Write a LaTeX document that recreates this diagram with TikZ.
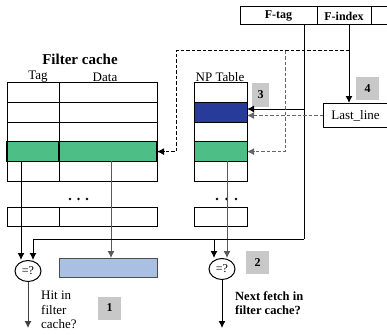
\documentclass[tikz,border=0pt]{standalone}
\usepackage{fontspec}
\setmainfont{Liberation Serif}
\usetikzlibrary{arrows.meta,shapes.geometric}
\definecolor{rowgreen}{RGB}{78,190,135}
\definecolor{rowblue}{RGB}{40,58,154}
\definecolor{barblue}{RGB}{170,192,226}
\definecolor{numgray}{RGB}{200,200,200}
\begin{document}
\begin{tikzpicture}[x=1pt,y=-1pt,
  line/.style={line width=1pt},
  arr/.style={line width=1pt,-{Latex[length=7pt,width=7pt]}},
  darr/.style={line width=1pt,dashed,dash pattern=on 3.5pt off 2pt,-{Latex[length=7pt,width=7pt]}},
  cell/.style={draw,line width=1pt,inner sep=0pt,outer sep=0pt,anchor=north west,minimum height=19.6pt},
  regcell/.style={draw,line width=1pt,inner sep=0pt,outer sep=0pt,anchor=north west,minimum height=18pt,font=\bfseries\fontsize{12}{12}\selectfont},
  lbl/.style={inner sep=0pt,font=\fontsize{13}{13}\selectfont},
  cmp/.style={draw,ellipse,line width=1pt,minimum width=26pt,minimum height=21pt,inner sep=0pt,font=\fontsize{12}{12}\selectfont},
  numbox/.style={fill=numgray,inner sep=0pt,minimum width=23pt,minimum height=23pt,font=\bfseries\fontsize{12}{12}\selectfont}
]
\useasboundingbox (0,0) rectangle (387,334);
\clip (0,0) rectangle (387,334);

% address register
\node[regcell,minimum width=77pt] (rtag) at (240,7) {F-tag};
\node[regcell,minimum width=54pt] (ridx) at (317,7) {F-index};
\node[regcell,minimum width=30pt] (rrest) at (371,7) {};

% titles
\node[inner sep=0pt,font=\bfseries\fontsize{15}{15}\selectfont] (fctitle) at (80,59) {Filter cache};
\node[lbl] (taglbl) at (38,77) {Tag};
\node[lbl] (datalbl) at (105,77) {Data};
\node[lbl] (nplbl) at (220,77) {NP Table};

% table rows
\foreach \i/\y in {1/83,2/102.6,3/122.2,5/161.4}{
  \node[cell,minimum width=52pt] (ft\i) at (7,\y) {};
  \node[cell,minimum width=98pt] (fd\i) at (59,\y) {};
  \node[cell,minimum width=53pt] (np\i) at (194,\y) {};
}
\node[cell,minimum width=52pt,fill=rowgreen,line width=1.2pt] (ft4) at (7,141.8) {};
\node[cell,minimum width=98pt,fill=rowgreen,line width=1.2pt] (fd4) at (59,141.8) {};
\node[cell,minimum width=53pt,fill=rowgreen] (np4) at (194,141.8) {};
\node[cell,minimum width=53pt,fill=rowblue] (np2) at (194,102.6) {};
\node[cell,minimum width=52pt] (ft6) at (7,207) {};
\node[cell,minimum width=98pt] (fd6) at (59,207) {};
\node[cell,minimum width=53pt] (np6) at (194,207) {};

% dots
\foreach \x in {70,78.5,87}{\fill (\x,199) circle (1.4);}
\foreach \x in {217,226.5,236}{\fill (\x,199) circle (1.4);}

% data bar
\node[draw=black!70,fill=barblue,line width=1pt,anchor=north west,inner sep=0pt,minimum width=98pt,minimum height=19pt] (bar) at (59,258) {};

% comparators
\node[cmp] (c1) at (28,271) {=?};
\node[cmp] (c2) at (222,269) {=?};

% Last_line
\node[draw,line width=1pt,anchor=north west,inner sep=0pt,minimum width=69pt,minimum height=24pt,font=\fontsize{13}{13}\selectfont] (ll) at (323,103) {Last\_line\hspace*{5pt}};

% numbered boxes
\node[numbox] (n1) at (109.5,308) {1};
\node[numbox] (n2) at (257.5,262.5) {2};
\node[numbox,minimum width=17pt,minimum height=24pt] (n3) at (260.5,95) {3};
\node[numbox] (n4) at (367.5,88.5) {4};

% solid connectors
\coordinate (tx) at (21,161.4);
\draw[arr] (tx) -- (tx |- c1.north);
\coordinate (dx) at (111,161.4);
\draw[arr,black!65] (dx) -- (dx |- bar.north);
\coordinate (npx) at (227,161.4);
\draw[arr,black!65] (npx) -- (npx |- c2.north);

\coordinate (fj) at (304,239);
\coordinate (b1) at (33,239);
\coordinate (b2) at (214,239);
\draw[line] (rtag.south -| fj) -- (fj);
\draw[arr] (fj) -- (b1) -- (b1 |- c1.north);
\draw[arr] (b2) -- (b2 |- c2.north);
\coordinate (fnp) at (304,109);
\draw[arr] (fnp) -- (fnp -| np2.east);

\coordinate (ix) at (349,103);
\draw[arr] (ridx.south -| ix) -- (ix);

\coordinate (o1) at (28,328);
\coordinate (o2) at (222,328);
\draw[arr,black!75] (c1.south) -- (o1);
\draw[arr] (c2.south) -- (o2);

% dashed connectors
\coordinate (d1) at (349,51);
\coordinate (d2) at (176,51);
\coordinate (d4) at (285,51);
\draw[darr] (d1) -- (d2) -- (d2 |- fd4.east) -- (fd4.east);
\draw[darr,black!60] (d4) -- (d4 |- np4.east) -- (np4.east);
\draw[darr,black!60] (ll.west) -- (ll.west -| np2.east);

% text labels
\node[anchor=north west,align=left,inner sep=0pt,font=\fontsize{13}{14.5}\selectfont] (hit) at (41,291) {Hit in\\filter\\cache?};
\node[anchor=north west,align=left,inner sep=0pt,font=\bfseries\fontsize{12.5}{14}\selectfont] (next) at (235,291) {Next fetch in\\filter cache?};
\end{tikzpicture}
\end{document}
